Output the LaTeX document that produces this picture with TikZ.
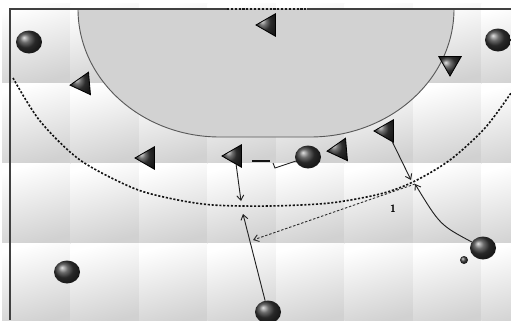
\documentclass[tikz,border=0pt]{standalone}
\usetikzlibrary{shapes.geometric,arrows.meta}

\tikzset{
	player/.style={ellipse, minimum width=1.3cm, minimum height=1.15cm, inner sep=0pt, shading=ball, ball color=gray!45!black},
	smallball/.style={circle, minimum size=0.4cm, inner sep=0pt, shading=ball, ball color=gray!45!black},
	defender/.style={regular polygon, regular polygon sides=3, minimum size=1.3cm, inner sep=0pt, shape border rotate=90, draw=black, line width=1.2pt, shading=ball, ball color=gray!50!black},
	move/.style={draw=gray!25!black, line width=1.3pt, -{Straight Barb[length=7pt,width=10pt]}},
	pass/.style={draw=gray!35!black, line width=1.3pt, dash pattern=on 3.5pt off 2.5pt, -{Straight Barb[length=7pt,width=10pt]}},
	nineline/.style={draw=gray!15!black, line width=2.3pt, dash pattern=on 3pt off 2.5pt}
}

\begin{document}
\begin{tikzpicture}[x=0.05cm,y=-0.05cm]
			\useasboundingbox (0,0) rectangle (511,320);
			\fill[white] (0,0) rectangle (511,320);
			\foreach \i in {0,...,7}
				{   \foreach \j in {0,...,3}
					{   \shade[top color=white, bottom color=gray!36, shading angle=15] (2+68.5*\i,3+80*\j) rectangle ++(68.5,80);
					}
				}

			% goal area
			\filldraw[fill=gray!35, draw=gray!70!black, line width=1.3pt] (78,9) arc[start angle=180, end angle=90, x radius=142, y radius=128]
				-- (310,137) arc[start angle=90, end angle=0, x radius=144, y radius=128] -- cycle;
			\draw[nineline] plot[smooth] coordinates {(13,78) (40,121) (80,160) (133,188) (173,199) (213,205) (270,206) (330,203) (380,194) (413,182) (450,160) (485,128) (511,93)};

			\draw[gray!50!black, line width=3.8pt] (10,320) -- (10,9) -- (227,9);
			\draw[gray!50!black, line width=3.8pt] (307,9) -- (511,9);
			\draw[gray!20!black, line width=3.8pt, dash pattern=on 3pt off 2.5pt] (227,9) -- (307,9);

			\node[player] at (29,42) (lw) {};
			\node[player] at (498,40) (rw) {};
			\node[player] at (308,157) (pv) {};
			\node[player] at (67,272) (lb) {};
			\node[player] at (268,312) (cb) {};
			\node[player] at (483,248) (rb) {};
			\node[smallball] at (464,260) (ball) {};

			\node[defender] at (269,25) (gk) {};
			\node[defender, shape border rotate=95] at (83,84) (def1) {};
			\node[defender, shape border rotate=180] at (450,63) (def2) {};
			\node[defender] at (148,158) (def3) {};
			\node[defender] at (235,156) (def4) {};
			\node[defender, shape border rotate=95] at (340,150) (def5) {};
			\node[defender] at (387,131) (def6) {};

			\coordinate (stop1) at (241,201);
			\coordinate (stop2) at (243,214);
			\coordinate (stop3) at (411,180);
			\coordinate (cross) at (415,184);
			\coordinate (recv) at (253,240);
			\coordinate (bara) at (252,161);
			\coordinate (barb) at (270,161);
			\coordinate (hooka) at (275,168);
			\coordinate (hookb) at (273,163);

			\draw[move] (def4) -- (stop1);
			\draw[move] (cb) -- (stop2);
			\draw[move] (def6) -- (stop3);
			\draw[move] (rb) .. controls (440,225) .. (cross);
			\draw[pass] (cross) -- (recv);
			\draw[gray!15!black, line width=2.4pt] (bara) -- (barb);
			\draw[gray!25!black, line width=1.3pt] (pv) -- (hooka) -- (hookb);

			\node[font=\sffamily\bfseries\fontsize{15}{15}\selectfont] at (393,209) (num) {1};
		\end{tikzpicture}
\end{document}
